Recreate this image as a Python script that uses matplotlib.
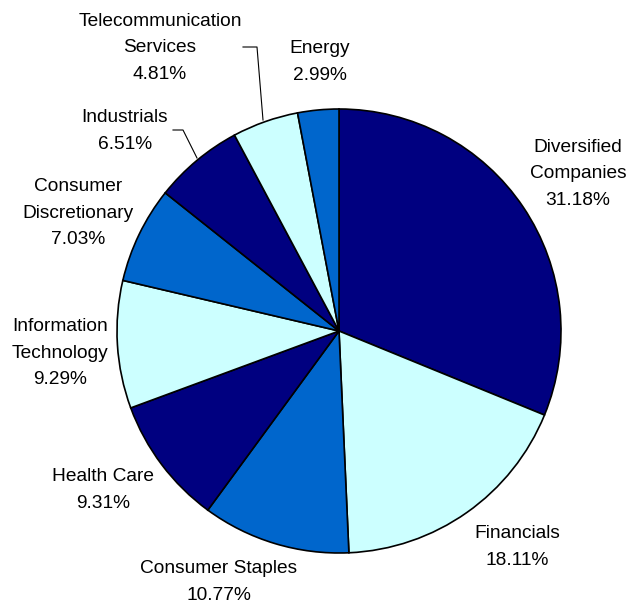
import matplotlib
matplotlib.use("Agg")
import matplotlib.pyplot as plt

categories = ["Diversified\nCompanies", "Financials", "Consumer Staples", "Health Care",
              "Information\nTechnology", "Consumer\nDiscretionary", "Industrials",
              "Telecommunication\nServices", "Energy"]
values = [31.18, 18.11, 10.77, 9.31, 9.29, 7.03, 6.51, 4.81, 2.99]
colors = ["#000080", "#CCFFFF", "#0066CC", "#000080", "#CCFFFF", "#0066CC", "#000080", "#CCFFFF", "#0066CC"]

# label positions (pixel coords, y from top) — layout only
label_pos = [(578, 174), (517, 547), (219, 582), (103, 490), (60, 353),
             (78, 213), (125, 131), (160, 48), (320, 62)]

W, H = 627, 604
fig = plt.figure(figsize=(W / 100, H / 100), dpi=100)
ax = fig.add_axes([0, 0, 1, 1])

cx, cy, r = 339, H - 331, 222
ax.pie(values, colors=colors, startangle=90, counterclock=False,
       center=(cx, cy), radius=r, frame=True,
       wedgeprops=dict(edgecolor="black", linewidth=1.2))
ax.set_xlim(0, W)
ax.set_ylim(0, H)
ax.set_aspect("equal")
ax.axis("off")

for cat, v, (x, y) in zip(categories, values, label_pos):
    ax.text(x, H - y, f"{cat}\n{v:.2f}%", ha="center", va="center",
            fontsize=13.8, family="Liberation Sans", linespacing=1.7, color="black")

# leader lines
ax.plot([173, 183, 197], [H - 130, H - 130, H - 158], color="black", lw=0.8)
ax.plot([243, 257, 263], [H - 47, H - 47, H - 120], color="black", lw=0.8)

fig.savefig("out.png", dpi=100)
